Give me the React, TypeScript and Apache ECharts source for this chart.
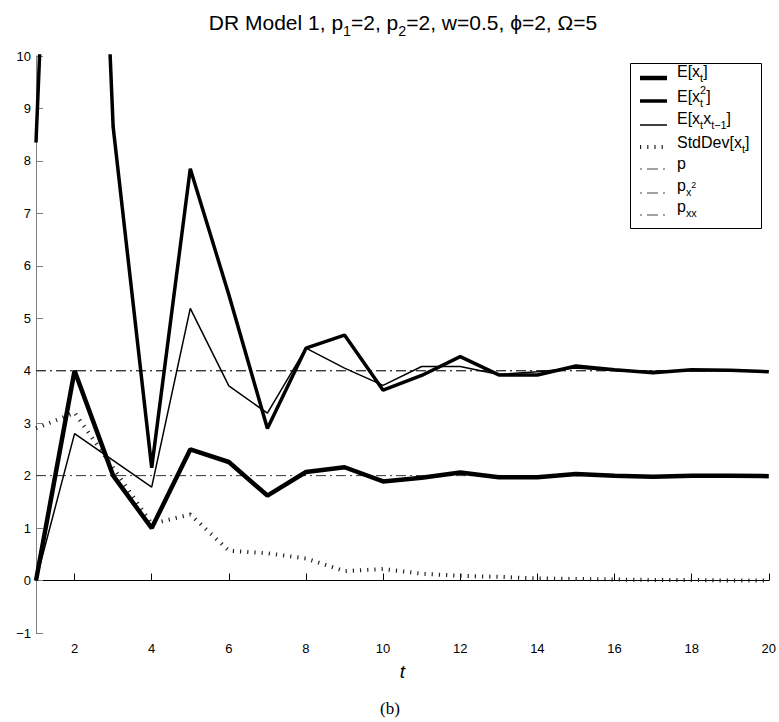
import React, { useEffect, useRef } from "react";
import * as echarts from "echarts";

// ---- data ----
const tValues = [1, 2, 3, 4, 5, 6, 7, 8, 9, 10, 11, 12, 13, 14, 15, 16, 17, 18, 19, 20];
const meanX = [0, 4.0, 2.0, 1.0, 2.5, 2.26, 1.62, 2.07, 2.16, 1.89, 1.96, 2.06, 1.97, 1.97, 2.03, 2.0, 1.98, 2.0, 2.0, 1.99];
const meanX2 = [8.35, 26.2, 8.65, 2.15, 7.85, 5.45, 2.9, 4.43, 4.68, 3.63, 3.91, 4.27, 3.92, 3.92, 4.09, 4.02, 3.96, 4.02, 4.01, 3.98];
const meanXX = [0, 2.8, 2.29, 1.78, 5.19, 3.71, 3.19, 4.43, 4.05, 3.72, 4.08, 4.08, 3.93, 3.98, 4.05, 4.0, 3.99, 4.0, 4.0, 3.99];
const stdX = [2.9, 3.2, 2.15, 1.08, 1.26, 0.57, 0.52, 0.42, 0.18, 0.22, 0.13, 0.09, 0.07, 0.04, 0.03, 0.02, 0.01, 0.01, 0.0, 0.0];
const pLevel = 2;
const px2Level = 4;
const pxxLevel = 4;
const xTicks = [2, 4, 6, 8, 10, 12, 14, 16, 18, 20];
const yMin = -1;
const yMax = 10;

const SANS = "'Liberation Sans', Arial, Helvetica, 'DejaVu Sans', sans-serif";

type Seg = { t: string; k?: "n" | "sub" | "sup" | "ss" | "subsup"; s?: string };

let ctx: CanvasRenderingContext2D | null = null;
function measure(text: string, size: number, family: string): number {
  if (!ctx) ctx = document.createElement("canvas").getContext("2d");
  if (!ctx) return text.length * size * 0.55;
  ctx.font = `${size}px ${family}`;
  return ctx.measureText(text).width;
}

function mathText(segs: Seg[], x: number, y: number, size: number, family: string, align: "left" | "center", color = "#000") {
  const sub = size * 0.68;
  const widths = segs.map((s) => {
    const k = s.k || "n";
    if (k === "n") return measure(s.t, size, family);
    if (k === "ss") return Math.max(measure(s.t, sub, family), measure(s.s || "", sub, family));
    if (k === "subsup") return measure(s.t, size * 0.55, family);
    return measure(s.t, sub, family);
  });
  const total = widths.reduce((a, b) => a + b, 0);
  let cx = align === "center" ? x - total / 2 : x;
  const els: any[] = [];
  segs.forEach((s, i) => {
    const k = s.k || "n";
    const mk = (text: string, fs: number, dy: number) => ({
      type: "text",
      x: cx,
      y: y + dy,
      style: { text, fontSize: fs, fontFamily: family, fill: color, align: "left", verticalAlign: "middle" },
    });
    if (k === "n") els.push(mk(s.t, size, 0));
    else if (k === "sub") els.push(mk(s.t, sub, size * 0.42));
    else if (k === "sup") els.push(mk(s.t, sub, -size * 0.42));
    else if (k === "ss") {
      els.push(mk(s.t, sub, size * 0.42));
      els.push(mk(s.s || "", sub, -size * 0.38));
    } else if (k === "subsup") els.push(mk(s.t, size * 0.55, -size * 0.02));
    cx += widths[i];
  });
  return els;
}

const legendRows: { segs: Seg[]; width: number; dash: number[] | null; color: string; lineY: number; textY: number }[] = [
  { segs: [{ t: "E[x" }, { t: "t", k: "sub" }, { t: "]" }], width: 4.5, dash: null, color: "#000", lineY: 78, textY: 71 },
  { segs: [{ t: "E[x" }, { t: "t", k: "ss", s: "2" }, { t: "]" }], width: 3.5, dash: null, color: "#000", lineY: 101, textY: 96 },
  { segs: [{ t: "E[x" }, { t: "t", k: "sub" }, { t: "x" }, { t: "t−1", k: "sub" }, { t: "]" }], width: 1.5, dash: null, color: "#000", lineY: 125, textY: 118 },
  { segs: [{ t: "StdDev[x" }, { t: "t", k: "sub" }, { t: "]" }], width: 4, dash: [1.2, 6], color: "#222", lineY: 147, textY: 142 },
  { segs: [{ t: "p" }], width: 1, dash: [2, 5, 11, 5], color: "#444", lineY: 169, textY: 163 },
  { segs: [{ t: "p" }, { t: "x", k: "sub" }, { t: "2", k: "subsup" }], width: 1, dash: [2, 5, 11, 5], color: "#444", lineY: 193, textY: 185 },
  { segs: [{ t: "p" }, { t: "xx", k: "sub" }], width: 1, dash: [2, 5, 11, 5], color: "#444", lineY: 215, textY: 206 },
];

export default function App() {
  const ref = useRef<HTMLDivElement>(null);
  useEffect(() => {
    if (!ref.current) return;
    const chart = echarts.init(ref.current, null, { renderer: "svg" });
    const toPts = (arr: number[]) => tValues.map((t, i) => [t, arr[i]]);
    const flat = (v: number) => tValues.map((t) => [t, v]);

    const graphics: any[] = [];
    // title
    graphics.push(
      ...mathText(
        [{ t: "DR Model 1, p" }, { t: "1", k: "sub" }, { t: "=2, p" }, { t: "2", k: "sub" }, { t: "=2, w=0.5, ϕ=2, Ω=5" }],
        403,
        22,
        21,
        SANS,
        "center"
      )
    );
    // legend box
    graphics.push({
      type: "rect",
      shape: { x: 630.5, y: 63.5, width: 131, height: 165 },
      style: { fill: "#fff", stroke: "#000", lineWidth: 1 },
      z: 10,
    });
    legendRows.forEach((r) => {
      graphics.push({
        type: "line",
        shape: { x1: 640, y1: r.lineY, x2: 667, y2: r.lineY },
        style: { stroke: r.color, lineWidth: r.width, lineDash: r.dash || undefined, lineCap: "butt" },
        z: 11,
      });
      mathText(r.segs, 677, r.textY, 16, SANS, "left").forEach((e) => graphics.push({ ...e, z: 11 }));
    });
    // caption
    graphics.push({
      type: "text",
      x: 390,
      y: 708,
      style: { text: "(b)", fontSize: 17, fontFamily: "'Liberation Serif', 'Times New Roman', serif", fill: "#000", align: "center", verticalAlign: "middle" },
    });

    const refLine = (name: string, v: number) => ({
      name,
      type: "line",
      data: flat(v),
      symbol: "none",
      lineStyle: { color: "#333", width: 1, type: [10, 4, 2, 4] },
      z: 1,
    });

    chart.setOption({
      animation: false,
      backgroundColor: "#fff",
      grid: { left: 36, right: 7, top: 56, bottom: 89, containLabel: false },
      xAxis: {
        type: "value",
        min: 1,
        max: 20,
        name: "t",
        nameLocation: "middle",
        nameGap: 29,
        nameTextStyle: { fontStyle: "italic", fontSize: 19, fontFamily: SANS, color: "#000" },
        axisLine: { show: true, lineStyle: { color: "#000", width: 1 } },
        axisTick: { show: true, inside: true, length: 7, customValues: xTicks, lineStyle: { color: "#000" } },
        axisLabel: { customValues: xTicks, fontSize: 13, fontFamily: SANS, color: "#000", margin: 9 },
        splitLine: { show: false },
      },
      yAxis: {
        type: "value",
        min: yMin,
        max: yMax,
        interval: 1,
        axisLine: { show: true, lineStyle: { color: "#808080", width: 1 } },
        axisTick: { show: true, inside: true, length: 7, lineStyle: { color: "#808080" } },
        axisLabel: {
          fontSize: 13,
          fontFamily: SANS,
          color: "#000",
          margin: 5,
          formatter: (v: number) => (v < 0 ? "−" + Math.abs(v) : String(v)),
        },
        splitLine: { show: false },
      },
      graphic: graphics,
      series: [
        refLine("p", pLevel),
        refLine("p_x2", px2Level),
        refLine("p_xx", pxxLevel),
        {
          name: "StdDev[x_t]",
          type: "line",
          data: toPts(stdX),
          symbol: "none",
          lineStyle: { color: "#222", width: 4, type: [1.2, 6], cap: "butt" },
          z: 2,
        },
        {
          name: "E[x_t x_t-1]",
          type: "line",
          data: toPts(meanXX),
          symbol: "none",
          lineStyle: { color: "#000", width: 1.5 },
          z: 3,
        },
        {
          name: "E[x_t^2]",
          type: "line",
          data: toPts(meanX2),
          symbol: "none",
          lineStyle: { color: "#000", width: 3.5 },
          z: 4,
        },
        {
          name: "E[x_t]",
          type: "line",
          data: toPts(meanX),
          symbol: "none",
          lineStyle: { color: "#000", width: 4.5 },
          z: 5,
        },
      ],
    });
    return () => chart.dispose();
  }, []);
  return <div ref={ref} style={{ position: "absolute", left: 0, top: 0, width: 779, height: 722 }} />;
}
